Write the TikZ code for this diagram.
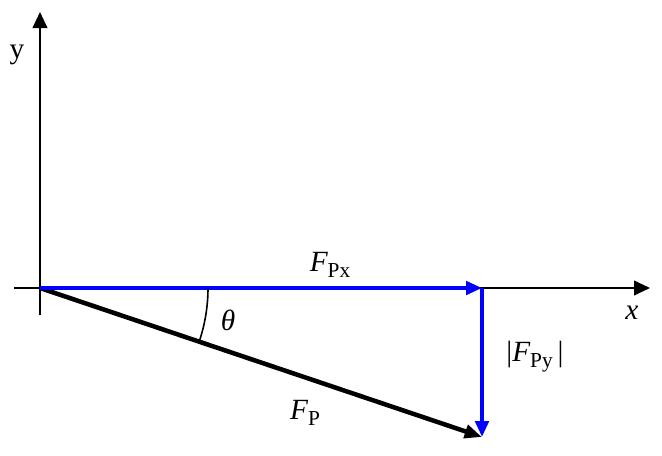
\documentclass[tikz,border=0pt]{standalone}
\usepackage{fontspec}
\setmainfont{Liberation Serif}
\usetikzlibrary{arrows.meta}

\begin{document}
\begin{tikzpicture}[x=0.75pt, y=0.75pt, font=\fontsize{22}{26}\selectfont,
	axis/.style={line width=1.5pt, -{Triangle[length=12pt,width=11pt]}},
	comp/.style={blue, line width=3.2pt, -{Triangle[length=12pt,width=10pt]}},
	force/.style={black, line width=3.4pt, -{Triangle[length=13pt,width=10pt]}}]
	\useasboundingbox (-40,-167) rectangle (622,288);
	\newcommand{\sub}[1]{\raisebox{-0.45ex}{\upshape\fontsize{16}{18}\selectfont #1}}

	% axes
	\coordinate (O) at (0,0);
	\coordinate (xs) at (-26,0); \coordinate (xe) at (610,0);
	\coordinate (ys) at (0,-27); \coordinate (ye) at (0,276);
	\draw[axis] (xs) -- (xe);
	\draw[axis] (ys) -- (ye);
	\node at (592,-25) {\itshape x};
	\node at (-23,233) {y};

	% force and its components
	\coordinate (Px) at (442,0); \coordinate (P) at (442,-149);
	\draw[force] (O) -- (P);
	\draw[comp] (O) -- (Px);
	\draw[comp] (Px) -- (P);
	\draw[line width=1.2pt] (168,0) arc [start angle=0, end angle=-18.6, radius=168];

	\node at (188,-32) {\itshape θ};
	\node at (290,23) {\itshape F\sub{Px}};
	\node at (495,-69) {|\itshape F\sub{Py}\upshape\,|};
	\node at (265,-125) {\itshape F\sub{P}};
\end{tikzpicture}
\end{document}
